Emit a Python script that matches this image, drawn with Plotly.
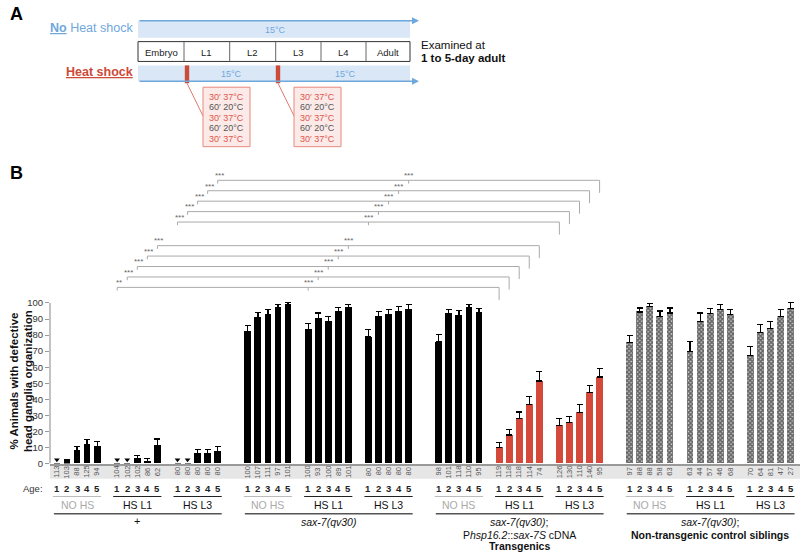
import plotly.graph_objects as go

W, H = 800, 558
FONT = "Arial, Liberation Sans, sans-serif"

# ---------------- data ----------------
ages = [1, 2, 3, 4, 5]
conditions = ["NO HS", "HS L1", "HS L3"]
genotype_labels = ["+", "sax-7(qv30)", "transgenics", "siblings"]

# % animals with defective head ganglia organization (rows: NO HS, HS L1, HS L3)
pct_wt = [[0, 1.0, 7.8, 11.5, 10.5],
          [0, 0, 2.9, 1.4, 11.1],
          [0, 0, 6.0, 6.0, 7.4]]
err_wt = [[0, 1.2, 2.9, 3.3, 3.3],
          [0, 0, 2.0, 1.5, 4.2],
          [0, 0, 2.9, 2.9, 3.1]]
n_wt = [[113, 103, 88, 125, 94],
        [104, 102, 102, 86, 62],
        [80, 80, 80, 80, 80]]

pct_sax7 = [[82.3, 90.7, 93.0, 96.9, 99.2],
            [83.3, 90.3, 88.3, 94.7, 97.1],
            [78.8, 91.4, 92.6, 94.9, 96.1]]
err_sax7 = [[3.7, 3.3, 2.7, 2.3, 1.2],
            [3.7, 3.5, 3.3, 2.4, 2.1],
            [4.7, 3.3, 3.3, 2.8, 2.9]]
n_sax7 = [[100, 107, 111, 97, 101],
          [100, 93, 100, 89, 101],
          [80, 80, 80, 80, 80]]

pct_tg = [[75.7, 93.2, 92.4, 97.1, 93.8],
          [9.9, 17.7, 28.0, 37.0, 51.4],
          [23.7, 25.3, 31.7, 44.2, 53.9]]
err_tg = [[4.5, 2.7, 2.7, 2.1, 2.7],
          [3.3, 3.7, 4.1, 4.8, 6.0],
          [4.1, 3.9, 4.9, 4.4, 5.1]]
n_tg = [[98, 101, 118, 110, 95],
        [119, 118, 118, 114, 74],
        [126, 130, 110, 140, 95]]

pct_sib = [[75.5, 94.4, 97.9, 91.8, 93.8],
           [70.0, 88.7, 93.2, 95.7, 93.0],
           [67.1, 81.5, 84.2, 91.6, 96.3]]
err_sib = [[4.3, 2.5, 1.9, 3.2, 3.1],
           [6.1, 5.1, 3.3, 3.3, 3.1],
           [5.7, 5.1, 4.3, 4.3, 3.9]]
n_sib = [[97, 88, 88, 58, 63],
         [63, 44, 57, 46, 68],
         [70, 64, 81, 47, 27]]

# significance brackets: (+ HS Lx) vs sax-7 HS Lx vs transgenic HS Lx, per age
stars_L1_left = ["**", "***", "***", "***", "***"]
stars_L1_mid = ["***", "***", "***", "***", "***"]
stars_L3_left = ["***", "***", "***", "***", "***"]
stars_L3_mid = ["***", "***", "***", "***", "***"]

PCT = [pct_wt, pct_sax7, pct_tg, pct_sib]
ERR = [err_wt, err_sax7, err_tg, err_sib]
NS = [n_wt, n_sax7, n_tg, n_sib]

# ---------------- layout helpers ----------------
G_START = [0, 19, 38, 57]


def pos(g, c, a):
    return G_START[g] + 6 * c + a


def px(x):
    return x / W


def py(y):
    return 1 - y / H


X0, SLOT = 56.9, 10.05
XR = [(50 - X0) / SLOT, (800 - X0) / SLOT]
Y_BOT, Y_TOP, PPU = 467.7, 170.0, 1.62
YR = [0, (Y_BOT - Y_TOP) / PPU]

fig = go.Figure()

RED = "#d4493a"
for g in range(4):
    for c in range(3):
        xs = [pos(g, c, a) for a in range(5)]
        vals = PCT[g][c]
        errs = ERR[g][c]
        if g == 3:
            marker = dict(color="#c8c8c8",
                          pattern=dict(shape="x", size=3, solidity=0.7, fgcolor="#000", bgcolor="#c8c8c8"),
                          line=dict(width=0))
        elif g == 2 and c > 0:
            marker = dict(color=RED, line=dict(width=0))
        else:
            marker = dict(color="black", line=dict(width=0))
        fig.add_trace(go.Bar(
            x=xs, y=vals, width=0.68, marker=marker, showlegend=False,
            error_y=dict(type="data", array=errs, arrayminus=[0] * 5, symmetric=False,
                         color="black", thickness=1.2, width=3,
                         visible=True),
        ))
        zx = [xs[i] for i in range(5) if vals[i] == 0]
        if zx:
            fig.add_trace(go.Scatter(x=zx, y=[2.3] * len(zx), mode="markers",
                                     marker=dict(symbol="triangle-down", size=5, color="black"),
                                     showlegend=False, hoverinfo="skip"))

shapes = []
ann = []


def text(t, x, y, size, color="black", xanchor="center", xref="paper", yref="paper", angle=0, yanchor="middle"):
    ann.append(dict(text=t, x=x, y=y, xref=xref, yref=yref, showarrow=False,
                    font=dict(family=FONT, size=size, color=color),
                    xanchor=xanchor, yanchor=yanchor, textangle=angle))


# y axis line
shapes.append(dict(type="line", xref="paper", yref="y", x0=px(50), x1=px(50), y0=0, y1=100,
                   line=dict(color="#999", width=1.2)))
# gray band for N
shapes.append(dict(type="rect", xref="paper", yref="paper", x0=px(50), x1=1, y0=py(483), y1=py(468.5),
                   fillcolor="#e6e6e6", line=dict(width=0), layer="below"))

# N values, ages, group lines, labels
for g in range(4):
    for c in range(3):
        for a in range(5):
            x = pos(g, c, a)
            text(str(NS[g][c][a]), x, py(476), 7.5, "#555", xref="x", angle=-90)
            text("<b>%d</b>" % ages[a], x, py(492.5), 9.5, "#222", xref="x")
        x0, x1 = pos(g, c, 0) - 0.4, pos(g, c, 4) + 0.4
        col = "#bbb" if c == 0 else "#222"
        shapes.append(dict(type="line", xref="x", yref="paper", x0=x0, x1=x1, y0=py(501), y1=py(501),
                           line=dict(color=col, width=1)))
        text(conditions[c], pos(g, c, 2), py(510), 10.5, "#aaa" if c == 0 else "#111", xref="x")
    shapes.append(dict(type="line", xref="x", yref="paper", x0=pos(g, 0, 0) - 0.3, x1=pos(g, 2, 4) + 0.4,
                       y0=py(518.5), y1=py(518.5), line=dict(color="#555", width=1.5)))

text("Age:", px(45), py(492.5), 9.5, "#333", xanchor="right")
text("+", pos(0, 1, 2), py(526), 11, "#111", xref="x")
text("<i>sax-7(qv30)</i>", pos(1, 1, 2), py(527), 10.5, "#111", xref="x")
text("<i>sax-7(qv30)</i>;", pos(2, 1, 2), py(527), 10.5, "#111", xref="x")
text("P<i>hsp16.2</i>::<i>sax-7S</i> cDNA", pos(2, 1, 2), py(539.5), 10.5, "#111", xref="x")
text("<b>Transgenics</b>", pos(2, 1, 2), py(551), 10.5, "#111", xref="x")
text("<i>sax-7(qv30)</i>;", pos(3, 1, 2), py(527), 10.5, "#111", xref="x")
text("<b>Non-transgenic control siblings</b>", pos(3, 1, 2), py(539.5), 10.5, "#111", xref="x")

# y axis title
text("<b>% Animals with defective</b>", px(14), py(385), 11.5, "#111", angle=-90)
text("<b>head ganglia organization</b>", px(27.5), py(385), 11.5, "#111", angle=-90)

# significance brackets
LOW_BASE, HIGH_BASE, STEP = 109.7, 150.4, 6.5
for c, base, sl, sm in [(1, LOW_BASE, stars_L1_left, stars_L1_mid), (2, HIGH_BASE, stars_L3_left, stars_L3_mid)]:
    for a in range(5):
        y = base + a * STEP
        s, m, e = pos(0, c, a), pos(1, c, a), pos(2, c, a)
        shapes.append(dict(type="path", xref="x", yref="y",
                           path=f"M {s},{y - 2} L {s},{y} L {e},{y} L {e},{y - 7.8}",
                           line=dict(color="#aaa", width=1)))
        shapes.append(dict(type="line", xref="x", yref="y", x0=m, x1=m, y0=y, y1=y - 2,
                           line=dict(color="#aaa", width=1)))
        text(sl[a], s + 0.15, y + 2.9, 8, "#666", xref="x", yref="y")
        text(sm[a], m, y + 2.9, 8, "#666", xref="x", yref="y")

# ---------------- panel A ----------------
BLUE = "#6fa8dc"
LBLUE = "#d9e7f7"
HRED = "#cc4a38"
text("<b>A</b>", px(8), py(14), 18, "black", xanchor="left")
text("<b>B</b>", px(8), py(175), 18, "black", xanchor="left")

text("<b><u>No</u></b> Heat shock", px(135), py(28), 12.5, BLUE, xanchor="right")
text("<b><u>Heat shock</u></b>", px(135), py(73), 12.5, HRED, xanchor="right")

shapes.append(dict(type="rect", xref="paper", yref="paper", x0=px(138), x1=px(410), y0=py(38), y1=py(21),
                   fillcolor=LBLUE, line=dict(width=0), layer="below"))
shapes.append(dict(type="rect", xref="paper", yref="paper", x0=px(138), x1=px(410), y0=py(82), y1=py(66),
                   fillcolor=LBLUE, line=dict(width=0), layer="below"))
for yy in (21, 82):
    ann.append(dict(x=px(419), y=py(yy), xref="paper", yref="paper", ax=-281, ay=0, text="",
                    showarrow=True, arrowhead=2, arrowsize=1, arrowwidth=1.4, arrowcolor=BLUE))
text("15°C", px(275), py(30), 9, BLUE)
text("15°C", px(232), py(74.5), 9, BLUE)
text("15°C", px(345), py(74.5), 9, BLUE)

stages = ["Embryo", "L1", "L2", "L3", "L4", "Adult"]
edges = [138, 184, 229.7, 275.7, 321, 366, 410]
shapes.append(dict(type="rect", xref="paper", yref="paper", x0=px(138), x1=px(410), y0=py(62), y1=py(42),
                   line=dict(color="#333", width=1)))
for i, st in enumerate(stages):
    if i > 0:
        shapes.append(dict(type="line", xref="paper", yref="paper", x0=px(edges[i]), x1=px(edges[i]),
                           y0=py(62), y1=py(42), line=dict(color="#666", width=1)))
    text(st, px((edges[i] + edges[i + 1]) / 2), py(52.5), 9.5, "#222")

text("Examined at", px(419), py(45.5), 11.5, "#111", xanchor="left")
text("<b>1 to 5-day adult</b>", px(419), py(59), 11.5, "#111", xanchor="left")

hs_lines = ["30′ 37°C", "60′ 20°C", "30′ 37°C", "60′ 20°C", "30′ 37°C"]
for mark_x, box_x in [(187, 203), (278, 294)]:
    shapes.append(dict(type="rect", xref="paper", yref="paper", x0=px(mark_x - 2.2), x1=px(mark_x + 2.2),
                       y0=py(84), y1=py(66), fillcolor=HRED, line=dict(width=0)))
    shapes.append(dict(type="line", xref="paper", yref="paper", x0=px(mark_x), x1=px(box_x),
                       y0=py(84), y1=py(117), line=dict(color="#e07a6e", width=1)))
    shapes.append(dict(type="rect", xref="paper", yref="paper", x0=px(box_x), x1=px(box_x + 47),
                       y0=py(148), y1=py(88), fillcolor="#fbeae8", line=dict(color="#e8897e", width=1)))
    for k, t in enumerate(hs_lines):
        text(t, px(box_x + 23.5), py(97.5 + k * 10.6), 9, "#e0554a" if k % 2 == 0 else "#555")

fig.update_layout(
    width=W, height=H, margin=dict(l=0, r=0, t=0, b=0),
    paper_bgcolor="white", plot_bgcolor="white",
    barmode="overlay", bargap=0,
    xaxis=dict(domain=[px(50), 1], range=XR, showticklabels=False, ticks="", showgrid=False,
               zeroline=False, showline=True, linecolor="#999", linewidth=2),
    yaxis=dict(domain=[py(Y_BOT), py(Y_TOP)], range=YR, tickvals=list(range(0, 101, 10)),
               ticks="outside", ticklen=4, tickcolor="#999", showgrid=False, zeroline=False,
               showline=False, tickfont=dict(family=FONT, size=9.5, color="#333")),
    shapes=shapes, annotations=ann, font=dict(family=FONT),
)

fig.write_html("out.html", config={"displayModeBar": False},
               post_script="document.body.style.margin='0';document.body.style.overflow='hidden';")
